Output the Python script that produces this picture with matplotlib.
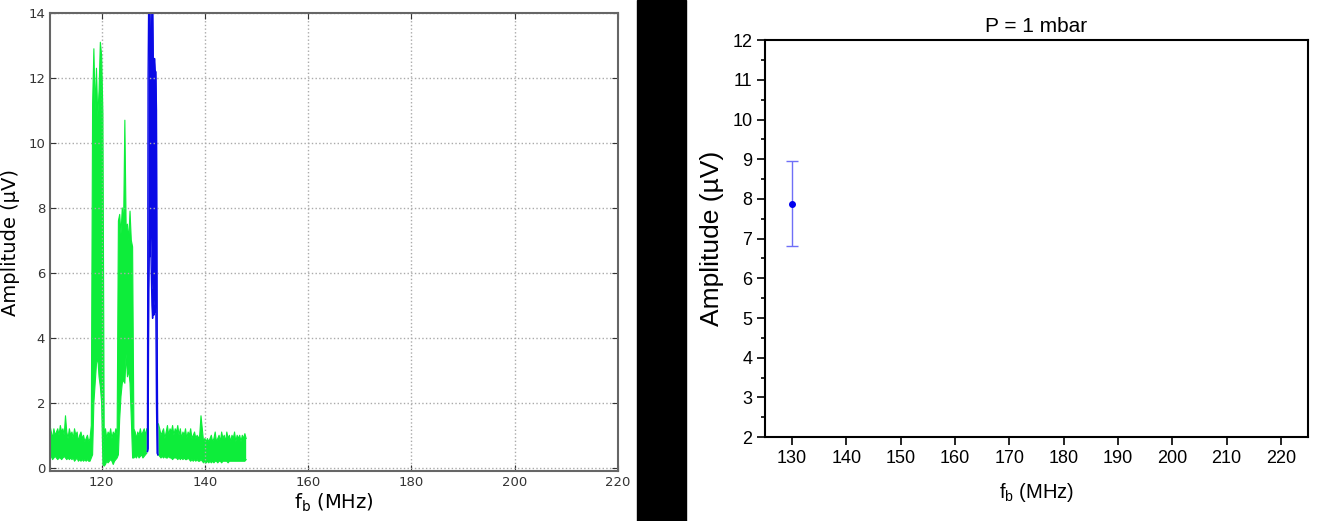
"""
Spectrum (left) and fitted amplitude vs f_b (right), P = 1 mbar
"""

import numpy as np
import matplotlib

matplotlib.use("Agg")
import matplotlib.pyplot as plt
from matplotlib.patches import Rectangle
from matplotlib.ticker import MultipleLocator

# ── spectrum, green trace: envelope (0.25 MHz samples) ──
green_f0, green_df = 110.0, 0.25
green_hi = [
    1.3, 1.1, 0.9, 1.2,   # 110
    1.0, 1.1, 1.2, 1.0,   # 111
    1.3, 1.1, 1.2, 1.0,   # 112
    1.6, 1.1, 0.9, 1.2,   # 113
    1.0, 1.1, 0.9, 1.2,   # 114
    1.0, 1.1, 0.8, 1.0,   # 115
    1.1, 0.9, 1.0, 0.8,   # 116
    0.9, 1.0, 0.8, 0.9,   # 117
    1.3, 11.2, 12.9, 11.0,  # 118
    12.3, 10.8, 11.6, 13.1,  # 119
    12.7, 10.9, 1.0, 1.2,   # 120
    0.9, 1.1, 1.0, 1.2,   # 121
    0.9, 1.1, 1.0, 1.2,   # 122
    1.0, 7.6, 7.8, 7.2,   # 123
    8.0, 7.4, 10.7, 7.4,  # 124
    7.5, 7.0, 7.9, 7.0,   # 125
    6.8, 1.2, 1.1, 0.9,   # 126
    1.1, 1.0, 1.2, 1.0,   # 127
    1.1, 1.2, 1.0, 1.2,   # 128
    np.nan, np.nan, np.nan, np.nan,  # 129
    np.nan, np.nan, np.nan, np.nan,  # 130
    1.35, 1.2, 1.0, 1.1,  # 131
    1.2, 0.9, 1.1, 1.3,   # 132
    1.0, 1.2, 1.1, 1.3,   # 133
    1.0, 1.2, 1.1, 1.3,   # 134
    1.0, 1.2, 0.9, 1.1,   # 135
    1.0, 1.2, 0.9, 1.1,   # 136
    1.0, 1.2, 0.9, 1.0,   # 137
    1.1, 0.9, 1.0, 0.9,   # 138
    1.0, 1.6, 1.2, 0.8,   # 139
    0.9, 0.8, 0.9, 0.8,   # 140
    0.9, 1.0, 0.8, 0.9,   # 141
    1.1, 0.8, 0.9, 1.0,   # 142
    0.8, 1.1, 0.9, 1.0,   # 143
    0.8, 1.1, 0.9, 1.0,   # 144
    0.8, 1.0, 0.9, 1.1,   # 145
    0.8, 1.0, 0.9, 1.0,   # 146
    0.8, 1.0, 0.9, 1.05,  # 147
    0.9,                  # 148
]
green_lo = [
    0.3, 0.35, 0.25, 0.3,
    0.35, 0.3, 0.25, 0.3,
    0.3, 0.25, 0.3, 0.35,
    0.3, 0.25, 0.3, 0.25,
    0.3, 0.25, 0.3, 0.2,
    0.25, 0.3, 0.2, 0.25,
    0.2, 0.25, 0.2, 0.25,
    0.2, 0.25, 0.2, 0.2,
    0.3, 0.4, 2.0, 2.6,
    3.2, 3.4, 2.8, 2.5,
    2.0, 0.1, 0.05, 0.1,
    0.2, 0.15, 0.2, 0.25,
    0.2, 0.1, 0.2, 0.25,
    0.3, 0.4, 1.5, 2.2,
    2.6, 2.7, 2.6, 3.5,
    2.8, 3.0, 2.6, 1.5,
    0.3, 0.3, 0.35, 0.3,
    0.4, 0.3, 0.35, 0.4,
    0.3, 0.35, 0.4, 0.45,
    np.nan, np.nan, np.nan, np.nan,
    np.nan, np.nan, np.nan, np.nan,
    0.4, 0.35, 0.3, 0.35,
    0.3, 0.35, 0.3, 0.3,
    0.35, 0.3, 0.3, 0.25,
    0.3, 0.3, 0.3, 0.25,
    0.3, 0.25, 0.3, 0.25,
    0.3, 0.25, 0.25, 0.3,
    0.25, 0.2, 0.25, 0.2,
    0.25, 0.2, 0.25, 0.2,
    0.2, 0.25, 0.2, 0.15,
    0.2, 0.15, 0.2, 0.15,
    0.2, 0.15, 0.2, 0.15,
    0.2, 0.2, 0.15, 0.2,
    0.2, 0.15, 0.2, 0.2,
    0.2, 0.2, 0.15, 0.2,
    0.2, 0.2, 0.2, 0.2,
    0.2, 0.2, 0.2, 0.2,
    0.2, 0.2, 0.2, 0.2,
    0.25,
]

# ── spectrum, blue trace (0.125 MHz samples) ──
blue_f0, blue_df = 128.875, 0.125
blue_hi = [0.5, 12.0, 14.5, 14.5, 13.9, 12.6, 12.6, 14.5, 14.5,
           12.6, 12.3, 12.6, 12.2, 12.2, 11.0, 4.0, 0.4]
blue_lo = [0.5, 0.6, 5.5, 7.0, 6.5, 7.1, 6.0, 5.0, 4.6,
           5.5, 4.7, 5.0, 4.8, 5.0, 2.0, 0.45, 0.4]

# ── right panel: single fitted point ──
fit_f = [130.0]
fit_amp = [7.88]
fit_err = [1.07]

green_f = green_f0 + green_df * np.arange(len(green_hi))
blue_f = blue_f0 + blue_df * np.arange(len(blue_hi))

fig = plt.figure(figsize=(13.23, 5.21), dpi=100)

# ── left: spectrum ─────────────────────────────────────────
ax1 = fig.add_axes([0.0378, 0.096, 0.4292, 0.879])
GREEN = "#0ded3a"
BLUE = "#0a0ae6"
ax1.fill_between(green_f, green_lo, green_hi, color=GREEN, linewidth=0)
ax1.plot(green_f, green_hi, color=GREEN, linewidth=0.8)
ax1.plot(green_f, green_lo, color=GREEN, linewidth=0.8)
ax1.fill_between(blue_f, blue_lo, blue_hi, color=BLUE, linewidth=0)
ax1.plot(blue_f, blue_hi, color=BLUE, linewidth=1.0)
ax1.plot(blue_f, blue_lo, color=BLUE, linewidth=1.0)

ax1.set_xlim(110, 220)
ax1.set_ylim(-0.1, 14)
ax1.set_xticks([120, 140, 160, 180, 200, 220])
ax1.set_yticks(range(0, 15, 2))
ax1.grid(True, color="#aaaaaa", linestyle=":", linewidth=1)
ax1.tick_params(direction="in", labelsize=9.5, length=4, colors="#333333",
                top=True, right=True)
for sp in ax1.spines.values():
    sp.set_color("#666666")
    sp.set_linewidth(1.5)
ax1.set_xlabel("f$_\\mathregular{b}$ (MHz)", fontsize=14, labelpad=2)
ax1.set_ylabel("Amplitude (µV)", fontsize=14, labelpad=6)

# ── black separator band ──────────────────────────────────
fig.patches.append(Rectangle((637 / 1323, 0), 49 / 1323, 1,
                             transform=fig.transFigure, color="black",
                             zorder=0))

# ── right: amplitude vs f_b ───────────────────────────────
ax2 = fig.add_axes([0.5782, 0.161, 0.4105, 0.762])
ax2.errorbar(fit_f, fit_amp, yerr=fit_err, fmt="o", color="#0000ee",
             markersize=4, ecolor="#6f6ff7", elinewidth=1.0, capsize=4,
             capthick=1.0)
ax2.set_xlim(125, 225)
ax2.set_ylim(2, 12)
ax2.set_xticks(range(130, 221, 10))
ax2.set_yticks(range(2, 13))
ax2.yaxis.set_minor_locator(MultipleLocator(0.5))
ax2.tick_params(which="major", direction="out", length=6, width=1.2,
                labelsize=13, pad=3)
ax2.tick_params(which="minor", direction="out", length=3, width=1.2)
for lab in ax2.get_xticklabels() + ax2.get_yticklabels():
    lab.set_family("Liberation Sans")
for sp in ax2.spines.values():
    sp.set_linewidth(1.5)
ax2.set_title("P = 1 mbar", fontsize=15, family="Liberation Sans", pad=6)
ax2.set_xlabel("f$_\\mathregular{b}$ (MHz)", fontsize=14.5,
               family="Liberation Sans", labelpad=10)
ax2.set_ylabel("Amplitude (µV)", fontsize=19, family="Liberation Sans",
               labelpad=6)

fig.savefig("out.png", dpi=100)
